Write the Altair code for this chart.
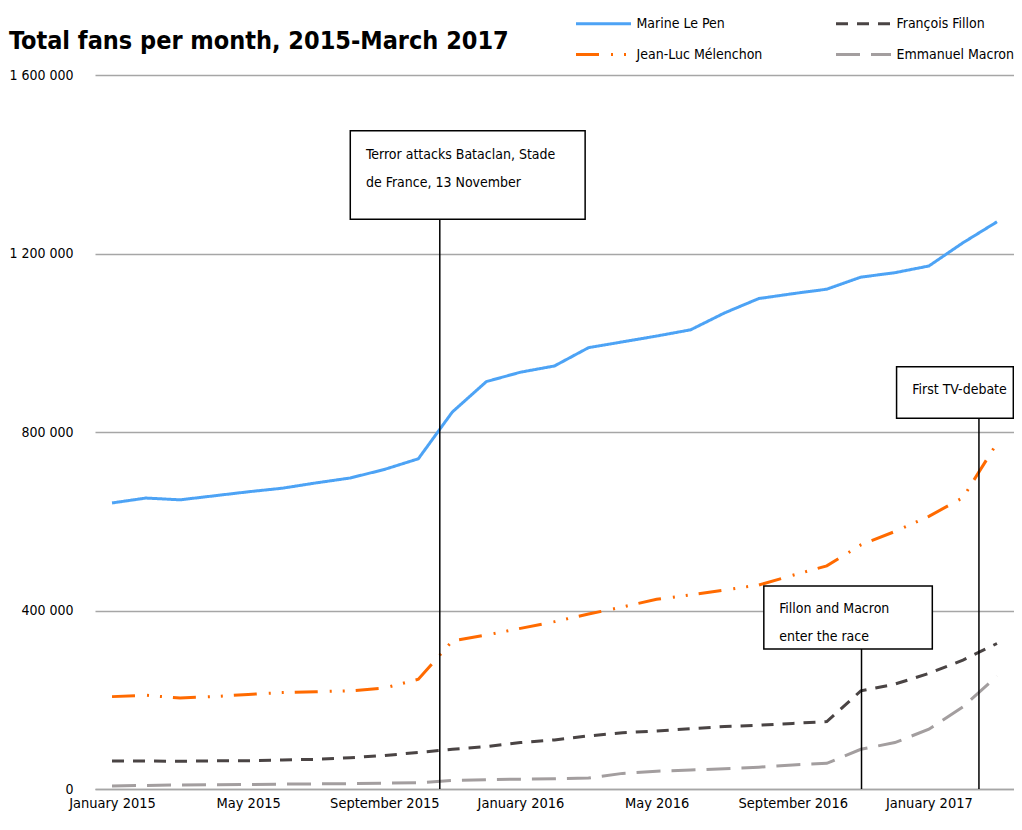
import altair as alt
import pandas as pd

FONT = "DejaVu Sans Condensed, Liberation Sans Narrow, sans-serif"

months = [
    "January 2015", "February 2015", "March 2015", "April 2015", "May 2015", "June 2015",
    "July 2015", "August 2015", "September 2015", "October 2015", "November 2015", "December 2015",
    "January 2016", "February 2016", "March 2016", "April 2016", "May 2016", "June 2016",
    "July 2016", "August 2016", "September 2016", "October 2016", "November 2016", "December 2016",
    "January 2017", "February 2017", "March 2017",
]
tick_index = [0, 4, 8, 12, 16, 20, 24]

# legend fills column by column: Le Pen / Mélenchon in first column, Fillon / Macron in second
candidates = ["Marine Le Pen", "Jean-Luc Mélenchon", "François Fillon", "Emmanuel Macron"]
le_pen = [641000, 652000, 648000, 657000, 666000, 674000, 686000, 697000, 716000, 740000,
          845000, 913000, 934000, 948000, 989000, 1002000, 1015000, 1029000, 1067000, 1099000,
          1110000, 1120000, 1147000, 1157000, 1172000, 1224000, 1271000]
melenchon = [207000, 210000, 204000, 207000, 212000, 216000, 218000, 220000, 226000, 246000,
             332000, 345000, 360000, 375000, 392000, 408000, 425000, 435000, 446000, 457000,
             479000, 500000, 547000, 577000, 611000, 653000, 775000]
fillon = [62700, 62700, 62000, 63000, 63500, 65000, 66500, 70000, 75000, 82000,
          89000, 95000, 104000, 110000, 119000, 126000, 130000, 135000, 140000, 143000,
          147000, 151000, 220000, 235000, 259000, 289000, 326000]
macron = [7000, 8000, 9000, 9500, 10000, 11000, 11500, 12000, 13000, 14000,
          19000, 21000, 22000, 23000, 24600, 35000, 40000, 42600, 45500, 49000,
          54000, 57500, 89000, 104000, 134000, 184000, 253000]
series = [le_pen, melenchon, fillon, macron]

colors = ["#4da3f5", "#ff6a00", "#4a4444", "#a39e9f"]
dashes = [[1, 0], [23, 12, 2, 11, 2, 11], [12, 9], [24, 11]]

y_ticks = [0, 400000, 800000, 1200000, 1600000]

# annotations (month index / fan values)
ann_text = ["Terror attacks Bataclan, Stade\nde France, 13 November",
            "Fillon and Macron\nenter the race",
            "First TV-debate"]
ann_box_x0 = [7.0, 19.15, 23.05]
ann_box_x1 = [13.9, 24.1, 26.48]
ann_box_y0 = [1277000, 314000, 831000]
ann_box_y1 = [1475000, 455000, 946000]
ann_line_x = [9.63, 22.02, 25.47]
ann_text_x = [7.46, 19.6, 23.51]
ann_text_y = [1421000, 403000, 894000]

rows = []
for name, vals in zip(candidates, series):
    for i, v in enumerate(vals):
        rows.append({"i": i, "month": months[i], "fans": v, "candidate": name})
df = pd.DataFrame(rows)

ann = pd.DataFrame({
    "text": ann_text, "x0": ann_box_x0, "x1": ann_box_x1, "y0": ann_box_y0, "y1": ann_box_y1,
    "lx": ann_line_x, "tx": ann_text_x, "ty": ann_text_y,
})

label_expr = "[" + ",".join("'" + m + "'" for m in months) + "][datum.value]"

x_scale = alt.Scale(domain=[-0.5, 26.5], nice=False, zero=False)
y_scale = alt.Scale(domain=[0, 1600000], nice=False)

x_enc = alt.X("i:Q", scale=x_scale, axis=alt.Axis(
    values=tick_index, labelExpr=label_expr, title=None, grid=False, ticks=False,
    domainColor="#a6a6a6", domainWidth=1.5, labelFont=FONT, labelFontSize=14.5,
    labelColor="#000000", labelPadding=7, labelFlush=False, labelOverlap=False))
y_enc = alt.Y("fans:Q", scale=y_scale, axis=alt.Axis(
    values=y_ticks,
    labelExpr="replace(replace(format(datum.value, ','), ',', ' '), ',', ' ')",
    title=None, grid=True, gridColor="#a6a6a6", gridWidth=1.5, domain=False, ticks=False,
    labelFont=FONT, labelFontSize=14, labelColor="#000000", labelPadding=22))

# legend symbol: a 55px horizontal stroke drawn from a small nominal symbol size
legend = alt.Legend(
    title=None, orient="none", legendX=493, legendY=-67, columns=2,
    symbolType="M-2,0L2,0", symbolSize=756.25, symbolStrokeWidth=3,
    labelFont=FONT, labelFontSize=14, labelColor="#000000", labelOffset=17.5,
    rowPadding=8, columnPadding=67, padding=0)

lines = alt.Chart(df).mark_line(strokeWidth=3).encode(
    x=x_enc, y=y_enc,
    color=alt.Color("candidate:N", scale=alt.Scale(domain=candidates, range=colors), legend=legend),
    strokeDash=alt.StrokeDash("candidate:N", scale=alt.Scale(domain=candidates, range=dashes), legend=legend),
    order="i:Q",
)

rules = alt.Chart(ann).mark_rule(color="black", strokeWidth=1.5).encode(
    x=alt.X("lx:Q", scale=x_scale), y=alt.Y("y0:Q", scale=y_scale), y2=alt.datum(0))
boxes = alt.Chart(ann).mark_rect(fill="white", stroke="black", strokeWidth=1.5).encode(
    x=alt.X("x0:Q", scale=x_scale), x2="x1:Q", y=alt.Y("y0:Q", scale=y_scale), y2="y1:Q")
texts = alt.Chart(ann).mark_text(
    align="left", baseline="middle", lineBreak="\n", lineHeight=28,
    font=FONT, fontSize=14, color="#000000").encode(
    x=alt.X("tx:Q", scale=x_scale), y=alt.Y("ty:Q", scale=y_scale), text="text:N")

chart = alt.layer(lines, rules, boxes, texts).properties(
    width=919, height=714,
    title=alt.TitleParams("Total fans per month, 2015-March 2017", anchor="start",
                          font=FONT, fontSize=25, fontWeight="bold", color="#000000",
                          baseline="alphabetic", dx=0, dy=66, offset=0),
    autosize=alt.AutoSizeParams(type="none"),
    padding={"left": 87, "top": 67, "right": 0, "bottom": 24},
    background="white",
).configure_view(stroke=None)

chart.save("out.html", embed_options={"renderer": "svg", "actions": False})
